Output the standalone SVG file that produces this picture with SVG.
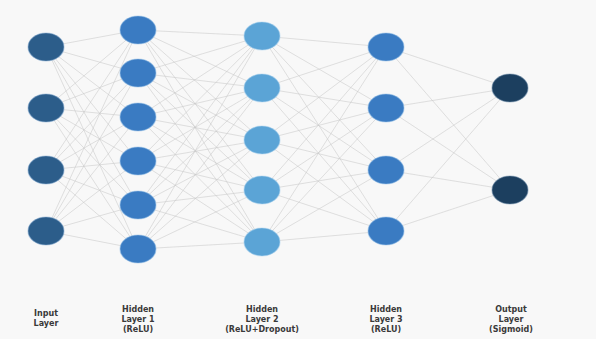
<svg xmlns="http://www.w3.org/2000/svg" width="596" height="339" viewBox="0 0 596 339">
<style>
.e{stroke:#c8c8c8;stroke-width:0.9;stroke-opacity:0.6;fill:none}
.n{stroke-width:1.2;stroke-opacity:0.5}
.in{fill:#2c5d8a;stroke:#7fa8d0}
.h1{fill:#3a7bc2;stroke:#8fbde8}
.h2{fill:#5ba4d6;stroke:#a8d2f0}
.h3{fill:#3a7bc2;stroke:#8fbde8}
.out{fill:#1c3f5f;stroke:#6a8aa8}
.t{font-family:"DejaVu Sans",sans-serif;font-weight:bold;font-size:8px;fill:#3a3a3a;text-anchor:middle}
</style>
<rect width="596" height="339" fill="#f8f8f8"/>
<g id="connectors">
<!-- input -> h1 -->
<path class="e" d="M46,47L138,30M46,47L138,73M46,47L138,117M46,47L138,161M46,47L138,205M46,47L138,249
M46,108L138,30M46,108L138,73M46,108L138,117M46,108L138,161M46,108L138,205M46,108L138,249
M46,170L138,30M46,170L138,73M46,170L138,117M46,170L138,161M46,170L138,205M46,170L138,249
M46,231L138,30M46,231L138,73M46,231L138,117M46,231L138,161M46,231L138,205M46,231L138,249"/>
<!-- h1 -> h2 -->
<path class="e" d="M138,30L262,36M138,30L262,88M138,30L262,140M138,30L262,190M138,30L262,242
M138,73L262,36M138,73L262,88M138,73L262,140M138,73L262,190M138,73L262,242
M138,117L262,36M138,117L262,88M138,117L262,140M138,117L262,190M138,117L262,242
M138,161L262,36M138,161L262,88M138,161L262,140M138,161L262,190M138,161L262,242
M138,205L262,36M138,205L262,88M138,205L262,140M138,205L262,190M138,205L262,242
M138,249L262,36M138,249L262,88M138,249L262,140M138,249L262,190M138,249L262,242"/>
<!-- h2 -> h3 -->
<path class="e" d="M262,36L386,47M262,36L386,108M262,36L386,170M262,36L386,231
M262,88L386,47M262,88L386,108M262,88L386,170M262,88L386,231
M262,140L386,47M262,140L386,108M262,140L386,170M262,140L386,231
M262,190L386,47M262,190L386,108M262,190L386,170M262,190L386,231
M262,242L386,47M262,242L386,108M262,242L386,170M262,242L386,231"/>
<!-- h3 -> out -->
<path class="e" d="M386,47L510,88M386,47L510,190M386,108L510,88M386,108L510,190
M386,170L510,88M386,170L510,190M386,231L510,88M386,231L510,190"/>
</g>
<g id="input-layer">
<ellipse id="in1" class="n in" cx="46" cy="47" rx="18" ry="14"/>
<ellipse id="in2" class="n in" cx="46" cy="108" rx="18" ry="14"/>
<ellipse id="in3" class="n in" cx="46" cy="170" rx="18" ry="14"/>
<ellipse id="in4" class="n in" cx="46" cy="231" rx="18" ry="14"/>
</g>
<g id="hidden-layer-1">
<ellipse id="h1a" class="n h1" cx="138" cy="30" rx="18" ry="14"/>
<ellipse id="h1b" class="n h1" cx="138" cy="73" rx="18" ry="14"/>
<ellipse id="h1c" class="n h1" cx="138" cy="117" rx="18" ry="14"/>
<ellipse id="h1d" class="n h1" cx="138" cy="161" rx="18" ry="14"/>
<ellipse id="h1e" class="n h1" cx="138" cy="205" rx="18" ry="14"/>
<ellipse id="h1f" class="n h1" cx="138" cy="249" rx="18" ry="14"/>
</g>
<g id="hidden-layer-2">
<ellipse id="h2a" class="n h2" cx="262" cy="36" rx="18" ry="14"/>
<ellipse id="h2b" class="n h2" cx="262" cy="88" rx="18" ry="14"/>
<ellipse id="h2c" class="n h2" cx="262" cy="140" rx="18" ry="14"/>
<ellipse id="h2d" class="n h2" cx="262" cy="190" rx="18" ry="14"/>
<ellipse id="h2e" class="n h2" cx="262" cy="242" rx="18" ry="14"/>
</g>
<g id="hidden-layer-3">
<ellipse id="h3a" class="n h3" cx="386" cy="47" rx="18" ry="14"/>
<ellipse id="h3b" class="n h3" cx="386" cy="108" rx="18" ry="14"/>
<ellipse id="h3c" class="n h3" cx="386" cy="170" rx="18" ry="14"/>
<ellipse id="h3d" class="n h3" cx="386" cy="231" rx="18" ry="14"/>
</g>
<g id="output-layer">
<ellipse id="out1" class="n out" cx="510" cy="88" rx="18" ry="14"/>
<ellipse id="out2" class="n out" cx="510" cy="190" rx="18" ry="14"/>
</g>
<g id="labels">
<text class="t" x="46" y="316">Input</text>
<text class="t" x="46" y="326">Layer</text>
<text class="t" x="138" y="312">Hidden</text>
<text class="t" x="138" y="322">Layer 1</text>
<text class="t" x="138" y="332">(ReLU)</text>
<text class="t" x="262" y="312">Hidden</text>
<text class="t" x="262" y="322">Layer 2</text>
<text class="t" x="262" y="332">(ReLU+Dropout)</text>
<text class="t" x="386" y="312">Hidden</text>
<text class="t" x="386" y="322">Layer 3</text>
<text class="t" x="386" y="332">(ReLU)</text>
<text class="t" x="511" y="312">Output</text>
<text class="t" x="511" y="322">Layer</text>
<text class="t" x="511" y="332">(Sigmoid)</text>
</g>
</svg>
